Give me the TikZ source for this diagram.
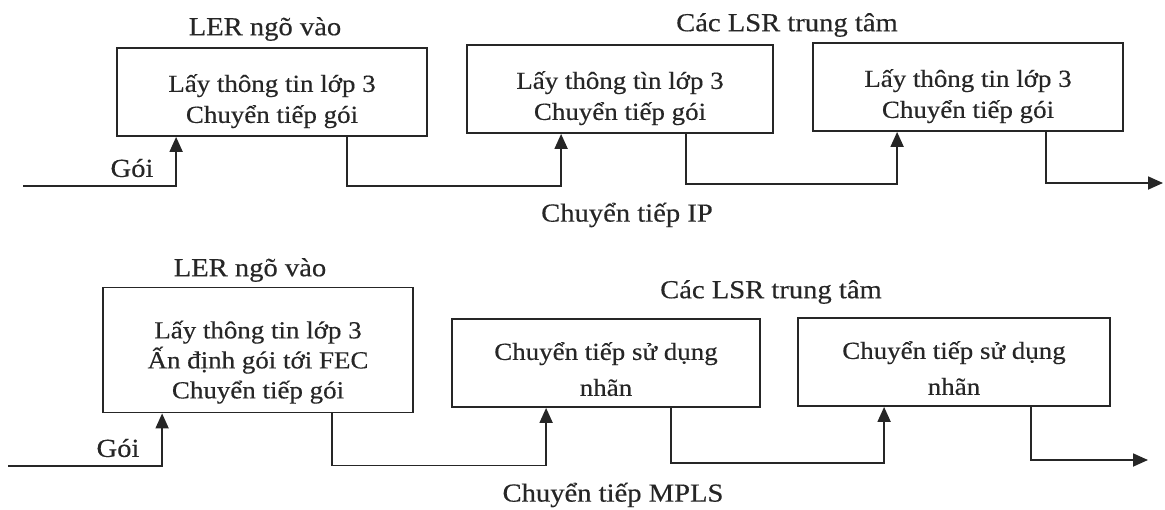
\documentclass[tikz,border=0pt]{standalone}
\usepackage{fontspec}
\setmainfont{Liberation Serif}[FakeStretch=1.1,FakeBold=0.4]
\usetikzlibrary{arrows.meta}
\newcommand{\dn}[1]{\rule{0pt}{#1}}
\begin{document}
\begin{tikzpicture}[x=1pt,y=-1pt,
  every node/.style={text=black!85},
  boxtxt/.style={font=\fontsize{24.5}{31}\selectfont},
  lbltxt/.style={font=\fontsize{26}{31}\selectfont},
  box/.style={boxtxt, draw=black!85, line width=1.8pt, minimum width=310pt, minimum height=88pt, align=center, inner sep=0pt},
  lbl/.style={lbltxt, inner sep=0pt},
  link/.style={draw=black!85, line width=1.8pt, -{Triangle[length=15pt,width=13pt]}}
]
\useasboundingbox (0,0) rectangle (1165,509);
% top row
\node[box] (b1) at (272,92) {\dn{36pt}Lấy thông tin lớp 3\\Chuyển tiếp gói};
\node[box, minimum width=306pt] (b2) at (620,89) {\dn{36pt}Lấy thông tìn lớp 3\\Chuyển tiếp gói};
\node[box] (b3) at (968,87) {\dn{36pt}Lấy thông tin lớp 3\\Chuyển tiếp gói};
\node[lbl] (t1) at (265,29) {LER ngõ vào};
\node[lbl] (t2) at (787,25) {Các LSR trung tâm};
\node[lbl] (g1) at (132,168) {Gói};
\node[lbl] (c1) at (627,215) {Chuyển tiếp IP};
\coordinate (in1) at (23,186);
\coordinate (out1) at (1163,183);
\draw[link] (in1) -| ([xshift=60pt]b1.south west);
\draw[link] ([xshift=231pt]b1.south west) -- ++(0,49) -| ([xshift=95pt]b2.south west);
\draw[link] ([xshift=220pt]b2.south west) -- ++(0,50) -| ([xshift=85pt]b3.south west);
\draw[link] ([xshift=234pt]b3.south west) |- (out1);
% bottom row
\node[box, minimum height=125pt] (b4) at (258,350) {\dn{42pt}Lấy thông tin lớp 3\\[-1pt]Ấn định gói tới FEC\\[-1pt]Chuyển tiếp gói};
\node[box, minimum width=308pt] (b5) at (606,363) {\dn{30pt}Chuyển tiếp sử dụng\\[5pt]nhãn};
\node[box, minimum width=312pt] (b6) at (954,362) {\dn{30pt}Chuyển tiếp sử dụng\\[5pt]nhãn};
\node[lbl] (t3) at (250,270) {LER ngõ vào};
\node[lbl] (t4) at (771,292) {Các LSR trung tâm};
\node[lbl] (g2) at (118,448) {Gói};
\node[lbl] (c2) at (613,495) {Chuyển tiếp MPLS};
\coordinate (in2) at (8,466);
\coordinate (out2) at (1148,460);
\draw[link] (in2) -| ([xshift=60pt]b4.south west);
\draw[link] ([xshift=230pt]b4.south west) -- ++(0,52) -| ([xshift=95pt]b5.south west);
\draw[link] ([xshift=220pt]b5.south west) -- ++(0,55) -| ([xshift=87pt]b6.south west);
\draw[link] ([xshift=234pt]b6.south west) |- (out2);
\end{tikzpicture}
\end{document}
